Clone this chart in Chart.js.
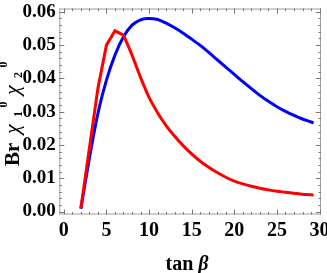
<!DOCTYPE html>
<html>
<head>
<meta charset="utf-8">
<script src="https://cdn.jsdelivr.net/npm/chart.js@4"></script>
<style>
  html, body { margin: 0; padding: 0; background: #fff; }
  canvas { display: block; }
</style>
</head>
<body>
<canvas id="myChart" width="327" height="273"></canvas>
<script>
// tan beta samples
const tanBeta = [2, 3, 4, 5, 6, 7, 8, 9, 10, 11, 12, 13, 14, 15, 16, 17, 18, 19, 20,
                 21, 22, 23, 24, 25, 26, 27, 28, 29, 29.3];
// red curve
const brRed = [0.001, 0.019, 0.037, 0.050, 0.0543, 0.053, 0.0470, 0.0403, 0.0343, 0.0297, 0.0258,
               0.0226, 0.0198, 0.0173, 0.0151, 0.0133, 0.0117, 0.0103, 0.0091, 0.0083, 0.0076,
               0.0070, 0.0065, 0.0061, 0.0058, 0.0055, 0.0052, 0.0050, 0.0049];
// blue curve
const brBlue = [0.0008, 0.0160, 0.0295, 0.0395, 0.0470, 0.0525, 0.0560, 0.0576, 0.0580, 0.0577, 0.0566,
                0.0552, 0.0536, 0.0518, 0.0499, 0.0478, 0.0456, 0.0434, 0.0412, 0.0390, 0.0369,
                0.0349, 0.0331, 0.0315, 0.0301, 0.0289, 0.0278, 0.0269, 0.0266];
const redKink = 5; // index of tan beta = 7, where the red curve turns from straight pieces to smooth
const xTicks = [0, 5, 10, 15, 20, 25, 30];
const yTicks = [0, 0.01, 0.02, 0.03, 0.04, 0.05, 0.06];

const serif = '"Liberation Serif", "Times New Roman", serif';

const toPoints = (ys, from, to) =>
    tanBeta.slice(from, to).map((x, i) => ({ x: x, y: ys[from + i] }));

// frame, inward ticks and the axis titles, drawn like a Mathematica frame
const framePlugin = {
    id: 'frame',
    afterDraw(chart) {
        const ctx = chart.ctx;
        const a = chart.chartArea;
        const xs = chart.scales.x, ys = chart.scales.y;
        ctx.save();
        ctx.strokeStyle = '#a0a0a0';
        ctx.lineWidth = 1;
        ctx.strokeRect(a.left + 0.5, a.top + 0.5, a.right - a.left - 1, a.bottom - a.top - 1);
        ctx.strokeStyle = '#777';
        ctx.beginPath();
        for (let v = 0; v <= 30; v++) {
            const px = Math.round(xs.getPixelForValue(v)) + 0.5;
            const len = v % 5 === 0 ? 5 : 2.5;
            ctx.moveTo(px, a.bottom); ctx.lineTo(px, a.bottom - len);
            ctx.moveTo(px, a.top); ctx.lineTo(px, a.top + len);
        }
        for (let i = 0; i <= 30; i++) {
            const v = i * 0.002;
            const py = Math.round(ys.getPixelForValue(v)) + 0.5;
            const len = i % 5 === 0 ? 5 : 2.5;
            ctx.moveTo(a.left, py); ctx.lineTo(a.left + len, py);
            ctx.moveTo(a.right, py); ctx.lineTo(a.right - len, py);
        }
        ctx.stroke();

        // y title: Br chi_1^0 chi_2^0, pieces placed along the rotated baseline
        ctx.fillStyle = '#000';
        ctx.textBaseline = 'alphabetic';
        ctx.textAlign = 'left';
        const big = 'bold 21px ' + serif, greek = 'italic 22px ' + serif, small = 'bold 12px ' + serif;
        const parts = [
            { t: 'Br', f: big, at: 0, dy: 0 },
            { t: 'χ', f: greek, at: 32, dy: 0 },
            { t: '1', f: small, at: 49, dy: 3 },
            { t: '0', f: small, at: 58.5, dy: -12 },
            { t: 'χ', f: greek, at: 71, dy: 0 },
            { t: '2', f: small, at: 88, dy: 3 },
            { t: '0', f: small, at: 98.5, dy: -12 }
        ];
        ctx.translate(19, 166);
        ctx.rotate(-Math.PI / 2);
        parts.forEach(p => {
            ctx.font = p.f;
            ctx.fillText(p.t, p.at, p.dy);
        });
        ctx.restore();

        // x title: tan beta
        ctx.save();
        ctx.fillStyle = '#000';
        ctx.textBaseline = 'alphabetic';
        ctx.textAlign = 'left';
        const f1 = 'bold 20px ' + serif, f2 = 'bold italic 20px ' + serif;
        ctx.font = f1; const w1 = ctx.measureText('tan ').width;
        ctx.font = f2; const w2 = ctx.measureText('β').width;
        const sx = 187 - (w1 + w2) / 2;
        ctx.font = f1; ctx.fillText('tan ', sx, 270);
        ctx.font = f2; ctx.fillText('β', sx + w1, 270);
        ctx.restore();
    }
};

const ctx = document.getElementById('myChart').getContext('2d');

const line = (color, extra) => Object.assign({
    borderColor: color,
    borderWidth: 3,
    pointRadius: 0,
    fill: false,
    tension: 0
}, extra);

new Chart(ctx, {
    type: 'line',
    data: {
        datasets: [
            line('#ff0000', { data: toPoints(brRed, 0, redKink + 1) }),
            line('#ff0000', { data: toPoints(brRed, redKink), cubicInterpolationMode: 'monotone' }),
            line('#0000ff', { data: toPoints(brBlue, 0), cubicInterpolationMode: 'monotone' })
        ]
    },
    options: {
        responsive: false,
        devicePixelRatio: 1,
        animation: false,
        layout: { padding: { top: 8.5, right: 6, left: 0, bottom: 0 } },
        plugins: {
            legend: { display: false },
            tooltip: { enabled: false }
        },
        scales: {
            x: {
                type: 'linear',
                min: -0.53,
                max: 30.17,
                afterBuildTicks: s => { s.ticks = xTicks.map(v => ({ value: v })); },
                afterFit: s => { s.height = 58.5; s.paddingLeft = 0; s.paddingRight = 0; },
                grid: { display: false, drawTicks: false },
                border: { display: false },
                ticks: {
                    autoSkip: false,
                    maxRotation: 0,
                    padding: 4,
                    color: '#000',
                    font: { family: serif, size: 20, weight: 'bold' }
                }
            },
            y: {
                type: 'linear',
                min: -0.0009,
                max: 0.061,
                afterBuildTicks: s => { s.ticks = yTicks.map(v => ({ value: v })); },
                afterFit: s => { s.width = 59.3; s.paddingTop = 0; s.paddingBottom = 0; },
                grid: { display: false, drawTicks: false },
                border: { display: false },
                ticks: {
                    autoSkip: false,
                    padding: 3.5,
                    color: '#000',
                    callback: v => v.toFixed(2),
                    font: { family: serif, size: 19, weight: 'bold' }
                }
            }
        }
    },
    plugins: [framePlugin]
});
</script>
</body>
</html>
